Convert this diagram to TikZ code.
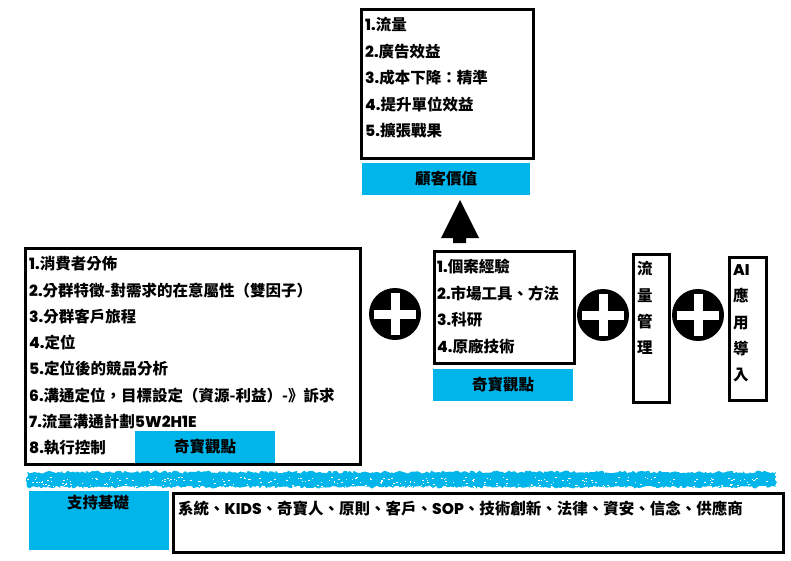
\documentclass[tikz,border=0pt]{standalone}
\usepackage{fontspec}
\setmainfont{Noto Sans CJK TC}[BoldFont={Noto Sans CJK TC Black}]
\newfontfamily\latfont{Poppins}[BoldFont={Poppins ExtraBold}]
\usetikzlibrary{decorations.pathmorphing}
\definecolor{skyblue}{HTML}{00B5EA}
\newcommand{\nr}[1]{{\latfont\bfseries #1}}

\begin{document}
\begin{tikzpicture}[x=1pt,y=-1pt,
  box/.style={draw=black,line width=3pt,anchor=north west,inner sep=0pt},
  tagbox/.style={fill=skyblue,anchor=north west,inner sep=0pt,font=\bfseries\fontsize{15.5}{18}\selectfont,text height=12.5pt,text depth=1.1pt},
  item/.style={anchor=west,inner sep=0pt,font=\bfseries\fontsize{15.5}{18}\selectfont,text height=12.5pt,text depth=1.1pt},
  plus/.style={circle,fill=black,minimum size=52pt,inner sep=0pt,
    path picture={\draw[white,line width=9pt]
      ([xshift=-21pt]path picture bounding box.center) -- ([xshift=21pt]path picture bounding box.center)
      ([yshift=-21pt]path picture bounding box.center) -- ([yshift=21pt]path picture bounding box.center);}}]
\useasboundingbox (0,0) rectangle (791,560);

% customer value
\node[box,minimum width=172pt,minimum height=149pt] (value) at (360,8) {};
\foreach \t [count=\i] in {{\nr{1.}流量},{\nr{2.}廣告效益},{\nr{3.}成本下降：精準},{\nr{4.}提升單位效益},{\nr{5.}擴張戰果}}
  \node[item] (value\i) at (365,{25+26.5*(\i-1)}) {\t};
\node[tagbox,minimum width=168pt,minimum height=32pt] (valueTag) at (362,163) {顧客價值};
\fill (460,200) -- (479,238) -- (466,238) -- (466,243) -- (453,243) -- (453,238) -- (441,238) -- cycle;

% market view
\node[box,minimum width=335pt,minimum height=216pt] (market) at (24,247) {};
\foreach \t [count=\i] in {{\nr{1.}消費者分佈},{\nr{2.}分群特徵-對需求的在意屬性（雙因子）},{\nr{3.}分群客戶旅程},{\nr{4.}定位},{\nr{5.}定位後的競品分析},{\nr{6.}溝通定位，目標設定（資源-利益）-》訴求},{\nr{7.}流量溝通計劃\nr{5W2H1E}},{\nr{8.}執行控制}}
  \node[item] (market\i) at (29,{264+26.3*(\i-1)}) {\t};
\node[tagbox,minimum width=140pt,minimum height=32pt] (marketTag) at (135,431) {奇寶觀點};

\node[plus] (plusA) at (395,314) {};

% know-how
\node[box,minimum width=140pt,minimum height=112pt] (skill) at (433,250) {};
\foreach \t [count=\i] in {{\nr{1.}個案經驗},{\nr{2.}市場工具、方法},{\nr{3.}科研},{\nr{4.}原廠技術}}
  \node[item] (skill\i) at (437,{267+26.6*(\i-1)}) {\t};
\node[tagbox,minimum width=140pt,minimum height=32pt] (skillTag) at (433,369) {奇寶觀點};

\node[plus] (plusB) at (603,315) {};

\node[box,minimum width=36pt,minimum height=148pt] (flow) at (632,253) {};
\foreach \t [count=\i] in {流,量,管,理}
  \node[item] (flow\i) at (637,{269+26.3*(\i-1)}) {\t};

\node[plus] (plusC) at (698,315) {};

\node[box,minimum width=37pt,minimum height=143pt] (ai) at (728,256) {};
\foreach \t [count=\i] in {{\nr{AI}},應,用,導,入}
  \node[item] (ai\i) at (733,{270+26.2*(\i-1)}) {\t};

% brush band
\pgfmathsetseed{3}
\fill[skyblue,decorate,decoration={random steps,segment length=2pt,amplitude=1.5pt}] (27,472) rectangle (776,487);
\foreach \i in {1,...,320}
  \fill[white] ({27+749*rnd},{477+11*rnd}) rectangle ++(1.5,1);

% base
\node[tagbox,minimum width=140pt,minimum height=59pt] (base) at (29,491) {};
\node[item,anchor=center] (baseText) at (98,503) {支持基礎};
\node[box,minimum width=610pt,minimum height=59pt] (support) at (172,492) {};
\node[item] (supportText) at (178,509) {系統、\nr{KIDS}、奇寶人、原則、客戶、\nr{SOP}、技術創新、法律、資安、信念、供應商};
\end{tikzpicture}
\end{document}
